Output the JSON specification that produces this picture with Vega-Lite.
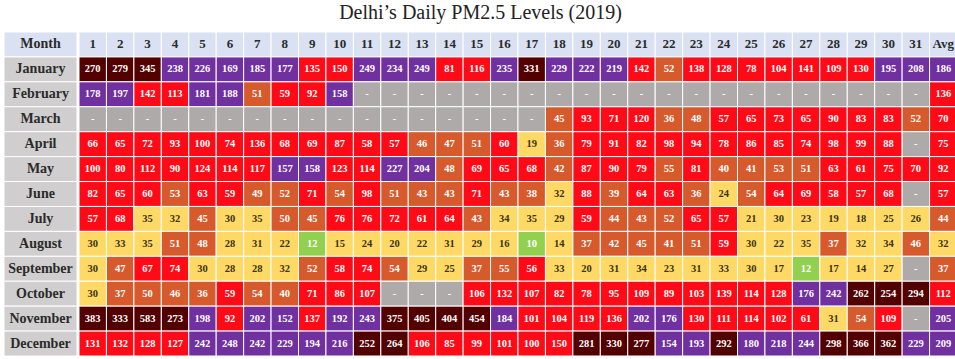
{
"$schema": "https://vega.github.io/schema/vega-lite/v6.json",
"padding": {"left": 3, "top": 2, "right": 0, "bottom": 0},
"background": "white",
"title": {"text": "Delhi’s Daily PM2.5 Levels (2019)", "font": "Liberation Serif", "fontSize": 20, "fontWeight": "normal", "color": "#222222", "offset": 9, "anchor": "middle"},
"spacing": 0,
"config": {"view": {"stroke": null}},
"datasets": {
"rows": [{"label":"Month"},{"label":"January"},{"label":"February"},{"label":"March"},{"label":"April"},{"label":"May"},{"label":"June"},{"label":"July"},{"label":"August"},{"label":"September"},{"label":"October"},{"label":"November"},{"label":"December"}],
"cols": [{"d":"1"},{"d":"2"},{"d":"3"},{"d":"4"},{"d":"5"},{"d":"6"},{"d":"7"},{"d":"8"},{"d":"9"},{"d":"10"},{"d":"11"},{"d":"12"},{"d":"13"},{"d":"14"},{"d":"15"},{"d":"16"},{"d":"17"},{"d":"18"},{"d":"19"},{"d":"20"},{"d":"21"},{"d":"22"},{"d":"23"},{"d":"24"},{"d":"25"},{"d":"26"},{"d":"27"},{"d":"28"},{"d":"29"},{"d":"30"},{"d":"31"},{"d":"Avg"}],
"cells": [
{"m":"January","d":"1","v":270},{"m":"January","d":"2","v":279},{"m":"January","d":"3","v":345},{"m":"January","d":"4","v":238},{"m":"January","d":"5","v":226},{"m":"January","d":"6","v":169},{"m":"January","d":"7","v":185},{"m":"January","d":"8","v":177},{"m":"January","d":"9","v":135},{"m":"January","d":"10","v":150},{"m":"January","d":"11","v":249},{"m":"January","d":"12","v":234},{"m":"January","d":"13","v":249},{"m":"January","d":"14","v":81},{"m":"January","d":"15","v":116},{"m":"January","d":"16","v":235},{"m":"January","d":"17","v":331},{"m":"January","d":"18","v":229},{"m":"January","d":"19","v":222},{"m":"January","d":"20","v":219},{"m":"January","d":"21","v":142},{"m":"January","d":"22","v":52},{"m":"January","d":"23","v":138},{"m":"January","d":"24","v":128},{"m":"January","d":"25","v":78},{"m":"January","d":"26","v":104},{"m":"January","d":"27","v":141},{"m":"January","d":"28","v":109},{"m":"January","d":"29","v":130},{"m":"January","d":"30","v":195},{"m":"January","d":"31","v":208},{"m":"January","d":"Avg","v":186},
{"m":"February","d":"1","v":178},{"m":"February","d":"2","v":197},{"m":"February","d":"3","v":142},{"m":"February","d":"4","v":113},{"m":"February","d":"5","v":181},{"m":"February","d":"6","v":188},{"m":"February","d":"7","v":51},{"m":"February","d":"8","v":59},{"m":"February","d":"9","v":92},{"m":"February","d":"10","v":158},{"m":"February","d":"11","v":null},{"m":"February","d":"12","v":null},{"m":"February","d":"13","v":null},{"m":"February","d":"14","v":null},{"m":"February","d":"15","v":null},{"m":"February","d":"16","v":null},{"m":"February","d":"17","v":null},{"m":"February","d":"18","v":null},{"m":"February","d":"19","v":null},{"m":"February","d":"20","v":null},{"m":"February","d":"21","v":null},{"m":"February","d":"22","v":null},{"m":"February","d":"23","v":null},{"m":"February","d":"24","v":null},{"m":"February","d":"25","v":null},{"m":"February","d":"26","v":null},{"m":"February","d":"27","v":null},{"m":"February","d":"28","v":null},{"m":"February","d":"29","v":null},{"m":"February","d":"30","v":null},{"m":"February","d":"31","v":null},{"m":"February","d":"Avg","v":136},
{"m":"March","d":"1","v":null},{"m":"March","d":"2","v":null},{"m":"March","d":"3","v":null},{"m":"March","d":"4","v":null},{"m":"March","d":"5","v":null},{"m":"March","d":"6","v":null},{"m":"March","d":"7","v":null},{"m":"March","d":"8","v":null},{"m":"March","d":"9","v":null},{"m":"March","d":"10","v":null},{"m":"March","d":"11","v":null},{"m":"March","d":"12","v":null},{"m":"March","d":"13","v":null},{"m":"March","d":"14","v":null},{"m":"March","d":"15","v":null},{"m":"March","d":"16","v":null},{"m":"March","d":"17","v":null},{"m":"March","d":"18","v":45},{"m":"March","d":"19","v":93},{"m":"March","d":"20","v":71},{"m":"March","d":"21","v":120},{"m":"March","d":"22","v":36},{"m":"March","d":"23","v":48},{"m":"March","d":"24","v":57},{"m":"March","d":"25","v":65},{"m":"March","d":"26","v":73},{"m":"March","d":"27","v":65},{"m":"March","d":"28","v":90},{"m":"March","d":"29","v":83},{"m":"March","d":"30","v":83},{"m":"March","d":"31","v":52},{"m":"March","d":"Avg","v":70},
{"m":"April","d":"1","v":66},{"m":"April","d":"2","v":65},{"m":"April","d":"3","v":72},{"m":"April","d":"4","v":93},{"m":"April","d":"5","v":100},{"m":"April","d":"6","v":74},{"m":"April","d":"7","v":136},{"m":"April","d":"8","v":68},{"m":"April","d":"9","v":69},{"m":"April","d":"10","v":87},{"m":"April","d":"11","v":58},{"m":"April","d":"12","v":57},{"m":"April","d":"13","v":46},{"m":"April","d":"14","v":47},{"m":"April","d":"15","v":51},{"m":"April","d":"16","v":60},{"m":"April","d":"17","v":19},{"m":"April","d":"18","v":36},{"m":"April","d":"19","v":79},{"m":"April","d":"20","v":91},{"m":"April","d":"21","v":82},{"m":"April","d":"22","v":98},{"m":"April","d":"23","v":94},{"m":"April","d":"24","v":78},{"m":"April","d":"25","v":86},{"m":"April","d":"26","v":85},{"m":"April","d":"27","v":74},{"m":"April","d":"28","v":98},{"m":"April","d":"29","v":99},{"m":"April","d":"30","v":88},{"m":"April","d":"31","v":null},{"m":"April","d":"Avg","v":75},
{"m":"May","d":"1","v":100},{"m":"May","d":"2","v":80},{"m":"May","d":"3","v":112},{"m":"May","d":"4","v":90},{"m":"May","d":"5","v":124},{"m":"May","d":"6","v":114},{"m":"May","d":"7","v":117},{"m":"May","d":"8","v":157},{"m":"May","d":"9","v":158},{"m":"May","d":"10","v":123},{"m":"May","d":"11","v":114},{"m":"May","d":"12","v":227},{"m":"May","d":"13","v":204},{"m":"May","d":"14","v":48},{"m":"May","d":"15","v":69},{"m":"May","d":"16","v":65},{"m":"May","d":"17","v":68},{"m":"May","d":"18","v":42},{"m":"May","d":"19","v":87},{"m":"May","d":"20","v":90},{"m":"May","d":"21","v":79},{"m":"May","d":"22","v":55},{"m":"May","d":"23","v":81},{"m":"May","d":"24","v":40},{"m":"May","d":"25","v":41},{"m":"May","d":"26","v":53},{"m":"May","d":"27","v":51},{"m":"May","d":"28","v":63},{"m":"May","d":"29","v":61},{"m":"May","d":"30","v":75},{"m":"May","d":"31","v":70},{"m":"May","d":"Avg","v":92},
{"m":"June","d":"1","v":82},{"m":"June","d":"2","v":65},{"m":"June","d":"3","v":60},{"m":"June","d":"4","v":53},{"m":"June","d":"5","v":63},{"m":"June","d":"6","v":59},{"m":"June","d":"7","v":49},{"m":"June","d":"8","v":52},{"m":"June","d":"9","v":71},{"m":"June","d":"10","v":54},{"m":"June","d":"11","v":98},{"m":"June","d":"12","v":51},{"m":"June","d":"13","v":43},{"m":"June","d":"14","v":43},{"m":"June","d":"15","v":71},{"m":"June","d":"16","v":43},{"m":"June","d":"17","v":38},{"m":"June","d":"18","v":32},{"m":"June","d":"19","v":88},{"m":"June","d":"20","v":39},{"m":"June","d":"21","v":64},{"m":"June","d":"22","v":63},{"m":"June","d":"23","v":36},{"m":"June","d":"24","v":24},{"m":"June","d":"25","v":54},{"m":"June","d":"26","v":64},{"m":"June","d":"27","v":69},{"m":"June","d":"28","v":58},{"m":"June","d":"29","v":57},{"m":"June","d":"30","v":68},{"m":"June","d":"31","v":null},{"m":"June","d":"Avg","v":57},
{"m":"July","d":"1","v":57},{"m":"July","d":"2","v":68},{"m":"July","d":"3","v":35},{"m":"July","d":"4","v":32},{"m":"July","d":"5","v":45},{"m":"July","d":"6","v":30},{"m":"July","d":"7","v":35},{"m":"July","d":"8","v":50},{"m":"July","d":"9","v":45},{"m":"July","d":"10","v":76},{"m":"July","d":"11","v":76},{"m":"July","d":"12","v":72},{"m":"July","d":"13","v":61},{"m":"July","d":"14","v":64},{"m":"July","d":"15","v":43},{"m":"July","d":"16","v":34},{"m":"July","d":"17","v":35},{"m":"July","d":"18","v":29},{"m":"July","d":"19","v":59},{"m":"July","d":"20","v":44},{"m":"July","d":"21","v":43},{"m":"July","d":"22","v":52},{"m":"July","d":"23","v":65},{"m":"July","d":"24","v":57},{"m":"July","d":"25","v":21},{"m":"July","d":"26","v":30},{"m":"July","d":"27","v":23},{"m":"July","d":"28","v":19},{"m":"July","d":"29","v":18},{"m":"July","d":"30","v":25},{"m":"July","d":"31","v":26},{"m":"July","d":"Avg","v":44},
{"m":"August","d":"1","v":30},{"m":"August","d":"2","v":33},{"m":"August","d":"3","v":35},{"m":"August","d":"4","v":51},{"m":"August","d":"5","v":48},{"m":"August","d":"6","v":28},{"m":"August","d":"7","v":31},{"m":"August","d":"8","v":22},{"m":"August","d":"9","v":12},{"m":"August","d":"10","v":15},{"m":"August","d":"11","v":24},{"m":"August","d":"12","v":20},{"m":"August","d":"13","v":22},{"m":"August","d":"14","v":31},{"m":"August","d":"15","v":29},{"m":"August","d":"16","v":16},{"m":"August","d":"17","v":10},{"m":"August","d":"18","v":14},{"m":"August","d":"19","v":37},{"m":"August","d":"20","v":42},{"m":"August","d":"21","v":45},{"m":"August","d":"22","v":41},{"m":"August","d":"23","v":51},{"m":"August","d":"24","v":59},{"m":"August","d":"25","v":30},{"m":"August","d":"26","v":22},{"m":"August","d":"27","v":35},{"m":"August","d":"28","v":37},{"m":"August","d":"29","v":32},{"m":"August","d":"30","v":34},{"m":"August","d":"31","v":46},{"m":"August","d":"Avg","v":32},
{"m":"September","d":"1","v":30},{"m":"September","d":"2","v":47},{"m":"September","d":"3","v":67},{"m":"September","d":"4","v":74},{"m":"September","d":"5","v":30},{"m":"September","d":"6","v":28},{"m":"September","d":"7","v":28},{"m":"September","d":"8","v":32},{"m":"September","d":"9","v":52},{"m":"September","d":"10","v":58},{"m":"September","d":"11","v":74},{"m":"September","d":"12","v":54},{"m":"September","d":"13","v":29},{"m":"September","d":"14","v":25},{"m":"September","d":"15","v":37},{"m":"September","d":"16","v":55},{"m":"September","d":"17","v":56},{"m":"September","d":"18","v":33},{"m":"September","d":"19","v":20},{"m":"September","d":"20","v":31},{"m":"September","d":"21","v":34},{"m":"September","d":"22","v":23},{"m":"September","d":"23","v":31},{"m":"September","d":"24","v":33},{"m":"September","d":"25","v":30},{"m":"September","d":"26","v":17},{"m":"September","d":"27","v":12},{"m":"September","d":"28","v":17},{"m":"September","d":"29","v":14},{"m":"September","d":"30","v":27},{"m":"September","d":"31","v":null},{"m":"September","d":"Avg","v":37},
{"m":"October","d":"1","v":30},{"m":"October","d":"2","v":37},{"m":"October","d":"3","v":50},{"m":"October","d":"4","v":46},{"m":"October","d":"5","v":36},{"m":"October","d":"6","v":59},{"m":"October","d":"7","v":54},{"m":"October","d":"8","v":40},{"m":"October","d":"9","v":71},{"m":"October","d":"10","v":86},{"m":"October","d":"11","v":107},{"m":"October","d":"12","v":null},{"m":"October","d":"13","v":null},{"m":"October","d":"14","v":null},{"m":"October","d":"15","v":106},{"m":"October","d":"16","v":132},{"m":"October","d":"17","v":107},{"m":"October","d":"18","v":82},{"m":"October","d":"19","v":78},{"m":"October","d":"20","v":95},{"m":"October","d":"21","v":109},{"m":"October","d":"22","v":89},{"m":"October","d":"23","v":103},{"m":"October","d":"24","v":139},{"m":"October","d":"25","v":114},{"m":"October","d":"26","v":128},{"m":"October","d":"27","v":176},{"m":"October","d":"28","v":242},{"m":"October","d":"29","v":262},{"m":"October","d":"30","v":254},{"m":"October","d":"31","v":294},{"m":"October","d":"Avg","v":112},
{"m":"November","d":"1","v":383},{"m":"November","d":"2","v":333},{"m":"November","d":"3","v":583},{"m":"November","d":"4","v":273},{"m":"November","d":"5","v":198},{"m":"November","d":"6","v":92},{"m":"November","d":"7","v":202},{"m":"November","d":"8","v":152},{"m":"November","d":"9","v":137},{"m":"November","d":"10","v":192},{"m":"November","d":"11","v":243},{"m":"November","d":"12","v":375},{"m":"November","d":"13","v":405},{"m":"November","d":"14","v":404},{"m":"November","d":"15","v":454},{"m":"November","d":"16","v":184},{"m":"November","d":"17","v":101},{"m":"November","d":"18","v":104},{"m":"November","d":"19","v":119},{"m":"November","d":"20","v":136},{"m":"November","d":"21","v":202},{"m":"November","d":"22","v":176},{"m":"November","d":"23","v":130},{"m":"November","d":"24","v":111},{"m":"November","d":"25","v":114},{"m":"November","d":"26","v":102},{"m":"November","d":"27","v":61},{"m":"November","d":"28","v":31},{"m":"November","d":"29","v":54},{"m":"November","d":"30","v":109},{"m":"November","d":"31","v":null},{"m":"November","d":"Avg","v":205},
{"m":"December","d":"1","v":131},{"m":"December","d":"2","v":132},{"m":"December","d":"3","v":128},{"m":"December","d":"4","v":127},{"m":"December","d":"5","v":242},{"m":"December","d":"6","v":248},{"m":"December","d":"7","v":242},{"m":"December","d":"8","v":229},{"m":"December","d":"9","v":194},{"m":"December","d":"10","v":216},{"m":"December","d":"11","v":252},{"m":"December","d":"12","v":264},{"m":"December","d":"13","v":106},{"m":"December","d":"14","v":85},{"m":"December","d":"15","v":99},{"m":"December","d":"16","v":101},{"m":"December","d":"17","v":100},{"m":"December","d":"18","v":150},{"m":"December","d":"19","v":281},{"m":"December","d":"20","v":330},{"m":"December","d":"21","v":277},{"m":"December","d":"22","v":154},{"m":"December","d":"23","v":193},{"m":"December","d":"24","v":292},{"m":"December","d":"25","v":180},{"m":"December","d":"26","v":218},{"m":"December","d":"27","v":244},{"m":"December","d":"28","v":298},{"m":"December","d":"29","v":366},{"m":"December","d":"30","v":362},{"m":"December","d":"31","v":229},{"m":"December","d":"Avg","v":209}
]
},
"hconcat": [
{
"width": 73, "height": 324,
"data": {"name": "rows"},
"layer": [
{"mark": {"type": "rect", "stroke": "white", "strokeWidth": 1},
 "encoding": {
  "y": {"field": "label", "type": "nominal", "sort": null, "scale": {"domain": ["Month","January","February","March","April","May","June","July","August","September","October","November","December"], "paddingInner": 0, "paddingOuter": 0}, "axis": null},
  "fill": {"condition": {"test": "datum.label === 'Month'", "value": "#d9e1f2"}, "value": "#d0cece"}
 }},
{"mark": {"type": "text", "font": "Liberation Serif", "fontSize": 14, "fontWeight": "bold", "color": "#2b2b2b"},
 "encoding": {
  "y": {"field": "label", "type": "nominal", "sort": null, "axis": null},
  "text": {"field": "label", "type": "nominal"}
 }}
]
},
{
"width": 878, "height": 324,
"layer": [
{"data": {"name": "cols"},
 "mark": {"type": "rect", "stroke": "white", "strokeWidth": 1, "fill": "#d9e1f2"},
 "encoding": {
  "x": {"field": "d", "type": "nominal", "sort": null, "scale": {"domain": ["1","2","3","4","5","6","7","8","9","10","11","12","13","14","15","16","17","18","19","20","21","22","23","24","25","26","27","28","29","30","31","Avg"], "paddingInner": 0, "paddingOuter": 0}, "axis": null},
  "y": {"datum": "Month", "type": "nominal", "scale": {"domain": ["Month","January","February","March","April","May","June","July","August","September","October","November","December"], "paddingInner": 0, "paddingOuter": 0}, "axis": null}
 }},
{"data": {"name": "cols"},
 "mark": {"type": "text", "font": "Liberation Serif", "fontSize": 13, "fontWeight": "bold", "color": "#2b2b2b"},
 "encoding": {
  "x": {"field": "d", "type": "nominal", "sort": null, "axis": null},
  "y": {"datum": "Month", "type": "nominal", "axis": null},
  "text": {"field": "d", "type": "nominal"}
 }},
{"data": {"name": "cells"},
 "mark": {"type": "rect", "stroke": "white", "strokeWidth": 1, "invalid": null},
 "encoding": {
  "x": {"field": "d", "type": "nominal", "sort": null, "axis": null},
  "y": {"field": "m", "type": "nominal", "sort": null, "axis": null},
  "fill": {"condition": {"test": "datum.v == null", "value": "#aeaaaa"}, "field": "v", "type": "quantitative",
   "scale": {"type": "threshold", "domain": [12.5, 35.5, 55.5, 150.5, 250.5], "range": ["#92d050", "#ffd966", "#d65a2c", "#ff0a16", "#7030a0", "#520000"]}, "legend": null}
 }},
{"data": {"name": "cells"},
 "mark": {"type": "text", "font": "Liberation Serif", "fontSize": 10.5, "fontWeight": "bold", "invalid": null},
 "encoding": {
  "x": {"field": "d", "type": "nominal", "sort": null, "axis": null},
  "y": {"field": "m", "type": "nominal", "sort": null, "axis": null},
  "text": {"condition": {"test": "datum.v == null", "value": "-"}, "field": "v", "type": "quantitative", "format": "d"},
  "color": {"condition": {"test": "datum.v != null && datum.v > 12.5 && datum.v <= 35.5", "value": "#3a3315"}, "value": "white"}
 }}
]
}
]
}
